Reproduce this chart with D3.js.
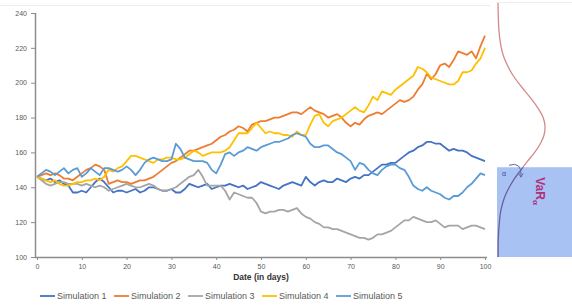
<!DOCTYPE html>
<html>
<head>
<meta charset="utf-8">
<script src="https://cdn.jsdelivr.net/npm/d3@7"></script>
<style>
  body { margin: 0; background: #fff; }
  svg { display: block; font-family: "Liberation Sans", Arial, sans-serif; }
</style>
</head>
<body>
<svg width="572" height="306"></svg>
<script>
// days 0..100
var days = d3.range(0, 101);

var sim1 = [146,145,144,145,143,144,142,141,137,137,138,137,140,143,145,143,140,137,138,138,
            137,138,139,137,138,140,140,139,138,138,139,137,137,139,142,141,140,141,142,139,
            140,141,141,142,141,140,141,139,140,141,143,142,141,140,139,141,142,143,142,141,
            146,143,141,143,144,143,143,145,144,143,145,146,145,147,147,149,151,153,153,154,
            154,156,158,160,161,163,164,166,166,165,165,163,161,162,161,161,160,158,157,156,155];
var sim2 = [146,147,148,147,148,147,145,145,144,146,148,150,151,153,152,150,142,143,144,143,
            143,142,143,144,144,145,146,148,150,152,154,155,157,159,161,161,162,163,164,165,
            167,169,170,172,173,175,174,172,176,177,178,178,179,180,180,181,182,183,183,182,
            184,186,184,183,182,180,181,182,180,177,175,177,176,179,181,182,183,182,184,186,
            188,190,189,190,192,196,199,205,202,205,210,211,209,213,218,217,216,218,214,221,227];
var sim3 = [146,144,142,141,142,143,143,142,142,142,141,142,141,140,141,140,138,139,140,141,
            142,141,140,140,141,142,141,139,138,138,139,140,142,144,146,147,150,146,141,141,
            141,141,138,133,137,136,135,134,134,131,126,125,126,126,127,127,126,127,128,125,
            123,122,120,119,117,117,116,116,115,114,113,112,111,111,110,111,113,113,114,115,
            117,119,121,121,123,122,121,120,120,121,119,117,118,118,118,116,117,118,118,117,116];
var sim4 = [146,145,144,143,144,142,141,141,142,143,143,144,144,145,144,146,150,149,151,152,
            155,158,158,157,156,155,154,156,156,157,157,156,156,157,159,161,160,158,159,160,
            160,160,161,163,167,171,171,171,174,177,174,171,172,171,171,170,170,169,172,170,
            170,176,181,182,177,175,178,179,180,182,184,186,184,183,187,192,190,195,194,193,
            196,198,200,202,204,209,208,206,203,202,201,200,199,199,201,206,206,207,211,214,220];
var sim5 = [146,148,150,149,147,149,151,148,150,151,146,148,151,149,147,151,151,150,149,150,
            152,150,147,150,154,156,157,156,155,155,156,165,162,157,156,155,155,155,154,150,
            148,153,159,160,158,160,161,163,162,161,163,164,165,166,166,167,168,170,171,170,
            169,165,163,163,164,164,162,160,159,157,155,150,154,153,150,148,147,150,152,153,
            153,151,150,146,141,139,138,140,138,137,136,134,133,135,135,137,140,142,145,148,147];

var seriesNames = ["Simulation 1", "Simulation 2", "Simulation 3", "Simulation 4", "Simulation 5"];
var seriesColors = ["#4472c4", "#ed7d31", "#a5a5a5", "#ffc000", "#5b9bd5"];
var yTicks = [100, 120, 140, 160, 180, 200, 220, 240];
var xTicks = [0, 10, 20, 30, 40, 50, 60, 70, 80, 90, 100];

// distribution on the right (value level -> relative density)
var densityLevels = [246,240,235,230,225,220,215,210,205,200,195,190,185,180,175,170,165,160,155,150,
                     145,140,135,130,125,120,115,110,100];
var densityValues = [0,0.004,0.01,0.02,0.04,0.07,0.12,0.2,0.3,0.43,0.58,0.73,0.86,0.96,1,0.98,0.9,0.78,0.63,0.49,
                     0.35,0.24,0.15,0.09,0.05,0.03,0.015,0.006,0.002];
var varLevel = 151.5;

var all = [sim1, sim2, sim3, sim4, sim5];

var svg = d3.select("svg");

var x = d3.scaleLinear().domain([0, 100]).range([37, 485]);
var y = d3.scaleLinear().domain([100, 240]).range([257, 13]);

// faint frame line on top
svg.append("line")
    .attr("x1", 0).attr("x2", 490).attr("y1", 5.5).attr("y2", 5.5)
    .attr("stroke", "#ececec");

// y axis
var yAxis = svg.append("g")
    .attr("transform", "translate(35,0)")
    .call(d3.axisLeft(y).tickValues(yTicks).tickSize(4).tickPadding(4));
// x axis
var xAxis = svg.append("g")
    .attr("transform", "translate(0,257)")
    .call(d3.axisBottom(x).tickValues(xTicks).tickSize(3).tickPadding(4));

[yAxis, xAxis].forEach(function(a) {
  a.select(".domain").attr("stroke", "#8c8c8c").attr("stroke-width", 1.5);
  a.selectAll(".tick line").attr("stroke", "#8c8c8c");
  a.selectAll(".tick text").attr("fill", "#595959").style("font-size", "7px");
});
xAxis.select(".domain").attr("d", "M35,0.5H487");
yAxis.select(".domain").attr("d", "M0.5,13V257");

svg.append("text")
    .attr("x", 261).attr("y", 280)
    .attr("text-anchor", "middle")
    .style("font-size", "8.5px")
    .style("font-weight", "bold")
    .attr("fill", "#333")
    .text("Date (in days)");

var line = d3.line()
    .x(function(d, i) { return x(days[i]); })
    .y(function(d) { return y(d); });

all.forEach(function(s, k) {
  svg.append("path")
      .datum(s)
      .attr("fill", "none")
      .attr("stroke", seriesColors[k])
      .attr("stroke-width", 1.8)
      .attr("stroke-linejoin", "round")
      .attr("d", line);
});

// legend
var legend = svg.append("g").attr("transform", "translate(0,296)");
seriesNames.forEach(function(n, k) {
  var lx = 40 + k * 74;
  legend.append("line")
      .attr("x1", lx).attr("x2", lx + 15)
      .attr("stroke", seriesColors[k]).attr("stroke-width", 1.8);
  legend.append("text")
      .attr("x", lx + 17).attr("y", 3)
      .style("font-size", "9px")
      .attr("fill", "#595959")
      .text(n);
});

// right panel: distribution of outcomes
var px0 = 498, pw = 47;
var panel = svg.append("g");
panel.append("line")
    .attr("x1", 496).attr("x2", 572).attr("y1", 2.5).attr("y2", 2.5)
    .attr("stroke", "#eeeeee");

var dens = d3.line()
    .x(function(d, i) { return px0 + densityValues[i] * pw; })
    .y(function(d) { return Math.max(y(d), 3); })
    .curve(d3.curveCatmullRom);

panel.append("path")
    .datum(densityLevels)
    .attr("fill", "none")
    .attr("stroke", "#d48a8a")
    .attr("stroke-width", 1.3)
    .attr("d", dens);

panel.append("rect")
    .attr("x", 497).attr("width", 75)
    .attr("y", y(varLevel)).attr("height", 257 - y(varLevel))
    .attr("fill", "#a8c2f4");

svg.append("clipPath").attr("id", "lowclip")
  .append("rect")
    .attr("x", 490).attr("width", 82)
    .attr("y", y(varLevel)).attr("height", 257 - y(varLevel));

panel.append("path")
    .datum(densityLevels)
    .attr("clip-path", "url(#lowclip)")
    .attr("fill", "none")
    .attr("stroke", "#6f5f9c")
    .attr("stroke-width", 1.3)
    .attr("d", dens);

// alpha marker and arrow
panel.append("text")
    .attr("x", 502).attr("y", y(varLevel) + 9)
    .style("font-size", "7px")
    .attr("fill", "#3a4a8c")
    .text("α");
panel.append("path")
    .attr("d", "M509," + (y(varLevel) - 2) + " Q522," + (y(varLevel) - 6) + " 521," + (y(varLevel) + 9))
    .attr("fill", "none")
    .attr("stroke", "#5a6aa8")
    .attr("stroke-width", 1);
panel.append("path")
    .attr("d", "M518.5," + (y(varLevel) + 6) + " L521," + (y(varLevel) + 10) + " L523," + (y(varLevel) + 6))
    .attr("fill", "none")
    .attr("stroke", "#5a6aa8")
    .attr("stroke-width", 1);

var vt = panel.append("text")
    .attr("transform", "translate(536," + (y(varLevel) + 10) + ") rotate(90)")
    .style("font-size", "12px")
    .style("font-weight", "bold")
    .attr("fill", "#b0307a");
vt.append("tspan").text("VaR");
vt.append("tspan").attr("dy", 3).style("font-size", "8px").text("α");
</script>
</body>
</html>
